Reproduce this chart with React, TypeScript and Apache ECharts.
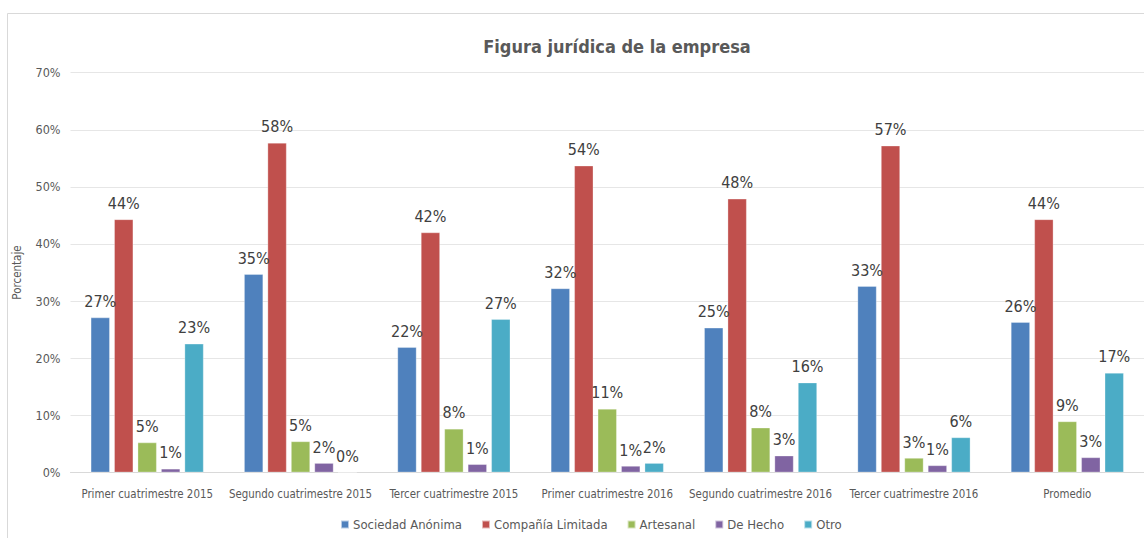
import React, { useEffect, useRef } from "react";
import * as echarts from "echarts";

const categories = [
  "Primer cuatrimestre 2015",
  "Segundo cuatrimestre 2015",
  "Tercer cuatrimestre 2015",
  "Primer cuatrimestre 2016",
  "Segundo cuatrimestre 2016",
  "Tercer cuatrimestre 2016",
  "Promedio",
];
const seriesNames = ["Sociedad Anónima", "Compañía Limitada", "Artesanal", "De Hecho", "Otro"];
const sociedadAnonima = [27.1, 34.7, 21.9, 32.2, 25.3, 32.6, 26.3];
const companiaLimitada = [44.3, 57.7, 42.0, 53.7, 47.9, 57.2, 44.3];
const artesanal = [5.2, 5.4, 7.6, 11.1, 7.8, 2.5, 8.9];
const deHecho = [0.6, 1.6, 1.4, 1.1, 2.9, 1.2, 2.6];
const otro = [22.5, 0, 26.8, 1.6, 15.7, 6.1, 17.4];
const yTicks = [0, 10, 20, 30, 40, 50, 60, 70];
const colors = ["#4F81BD", "#C0504D", "#9BBB59", "#8064A2", "#4BACC6"];

const FONT = "'Liberation Sans Narrow', 'DejaVu Sans Condensed', 'Open Sans', sans-serif";

export default function App() {
  const ref = useRef<HTMLDivElement>(null);
  useEffect(() => {
    if (!ref.current) return;
    const chart = echarts.init(ref.current, null, { renderer: "svg" });
    const data = [sociedadAnonima, companiaLimitada, artesanal, deHecho, otro];
    chart.setOption({
      animation: false,
      backgroundColor: "#ffffff",
      textStyle: { fontFamily: FONT },
      graphic: [
        {
          type: "line",
          shape: { x1: 7.5, y1: 13.5, x2: 1144, y2: 13.5 },
          style: { stroke: "#D9D9D9", lineWidth: 1 },
          silent: true,
        },
        {
          type: "line",
          shape: { x1: 7.5, y1: 13.5, x2: 7.5, y2: 538 },
          style: { stroke: "#D9D9D9", lineWidth: 1 },
          silent: true,
        },
        {
          type: "text",
          x: 617,
          y: 46,
          style: {
            text: "Figura jurídica de la empresa",
            fill: "#595959",
            font: "bold 18px " + FONT,
            textAlign: "center",
            textVerticalAlign: "middle",
          },
          silent: true,
        },
      ],
      legend: {
        left: 335,
        top: 513,
        itemWidth: 8,
        itemHeight: 8,
        itemGap: 19,
        icon: "rect",
        textStyle: { color: "#595959", fontSize: 13, fontFamily: FONT, padding: [0, 0, 0, -1] },
        data: seriesNames,
      },
      grid: { left: 70.5, right: -4.5, top: 72.7, bottom: 65.7, containLabel: false },
      xAxis: {
        type: "category",
        data: categories,
        axisLine: { show: true, lineStyle: { color: "#D9D9D9" } },
        axisTick: { show: false },
        axisLabel: { color: "#595959", fontSize: 11.4, margin: 16, fontFamily: FONT, interval: 0 },
      },
      yAxis: {
        type: "value",
        min: 0,
        max: 70,
        interval: 10,
        name: "Porcentaje",
        nameLocation: "middle",
        nameGap: 48,
        nameRotate: 90,
        nameTextStyle: { color: "#595959", fontSize: 11.5, fontFamily: FONT },
        axisLine: { show: false },
        axisTick: { show: false },
        splitLine: { lineStyle: { color: "#E6E6E6" } },
        axisLabel: {
          color: "#595959",
          fontSize: 12.5,
          margin: 10,
          fontFamily: FONT,
          formatter: (v: number) => (yTicks.includes(v) ? v + "%" : ""),
        },
      },
      series: seriesNames.map((name, i) => ({
        name,
        type: "bar",
        data: data[i],
        barGap: "24%",
        barCategoryGap: "26.5%",
        itemStyle: { color: colors[i], borderColor: "rgba(255,255,255,0.6)", borderWidth: 0.5 },
        label: {
          show: true,
          position: "top",
          distance: 8,
          color: "#404040",
          fontSize: 16,
          fontFamily: FONT,
          formatter: (p: any) => Math.round(p.value) + "%",
        },
      })),
    });
    return () => chart.dispose();
  }, []);
  return (
    <div
      ref={ref}
      style={{ position: "fixed", left: 0, top: 0, width: 1144, height: 538 }}
    />
  );
}
